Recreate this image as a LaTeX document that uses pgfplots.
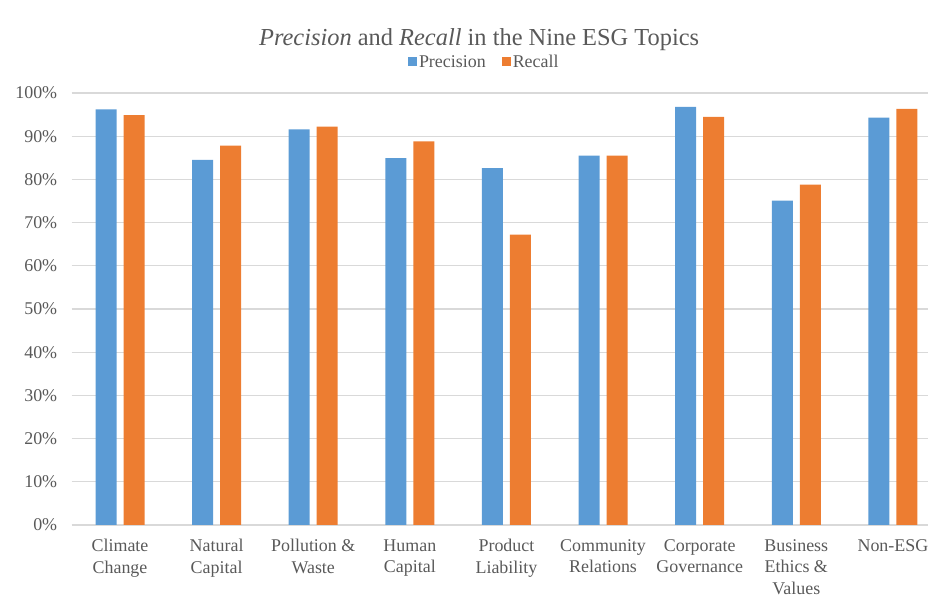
\documentclass[border=0pt]{standalone}
\usepackage{pgfplots}
\pgfplotsset{compat=1.18}
\usepackage{fontspec}
\setmainfont{Liberation Serif}
\definecolor{cblue}{HTML}{5B9BD5}
\definecolor{corange}{HTML}{ED7D31}
\definecolor{ctext}{HTML}{595959}
\definecolor{cgrid}{HTML}{D9D9D9}
\begin{document}
\begin{tikzpicture}
\begin{axis}[
  at={(71.7bp,72bp)}, anchor=south west,
  scale only axis, width=856bp, height=432bp,
  xmin=-0.5, xmax=8.36, ymin=0, ymax=100,
  ybar=7bp, bar width=21bp,
  axis line style={draw=none},
  major tick length=0pt,
  ymajorgrids, grid style={cgrid, line width=1.2bp},
  xtick={0,...,8},
  xticklabels={{Climate\\Change},{Natural\\Capital},{Pollution \&\\Waste},{Human\\Capital},{Product\\Liability},{Community\\Relations},{Corporate\\Governance},{Business\\Ethics \&\\Values},{Non-ESG}},
  ytick={0,10,...,100},
  yticklabel={\pgfmathprintnumber{\tick}\%},
  /pgf/number format/assume math mode=true,
  tick label style={font=\fontsize{18}{21.5}\selectfont, text=ctext},
  xticklabel style={align=center, anchor=north, yshift=-11bp},
  yticklabel style={anchor=east, xshift=-11bp},
  title={\textit{Precision} and \textit{Recall} in the Nine ESG Topics},
  title style={at={(rel axis cs:0.476,1)}, anchor=center, yshift=47bp, font=\fontsize{24.5}{28}\selectfont, text=ctext},
  legend style={at={(rel axis cs:0.482,1)}, anchor=center, yshift=31bp, draw=none, fill=none,
    legend columns=2, font=\fontsize{18}{22}\selectfont, text=ctext,
    /tikz/every even column/.append style={column sep=14bp}},
  legend image code/.code={\fill[#1] (0bp,-4.5bp) rectangle (9bp,4.5bp);},
]
\addplot[fill=cblue, draw=none] coordinates {(0,96.2) (1,84.5) (2,91.6) (3,84.9) (4,82.6) (5,85.5) (6,96.8) (7,75.1) (8,94.3)};
\addplot[fill=corange, draw=none] coordinates {(0,94.9) (1,87.8) (2,92.2) (3,88.8) (4,67.2) (5,85.5) (6,94.5) (7,78.8) (8,96.3)};
\legend{Precision, Recall}
\end{axis}
\pgfresetboundingbox
\path (0,0) rectangle (928bp,597bp);
\end{tikzpicture}
\end{document}
